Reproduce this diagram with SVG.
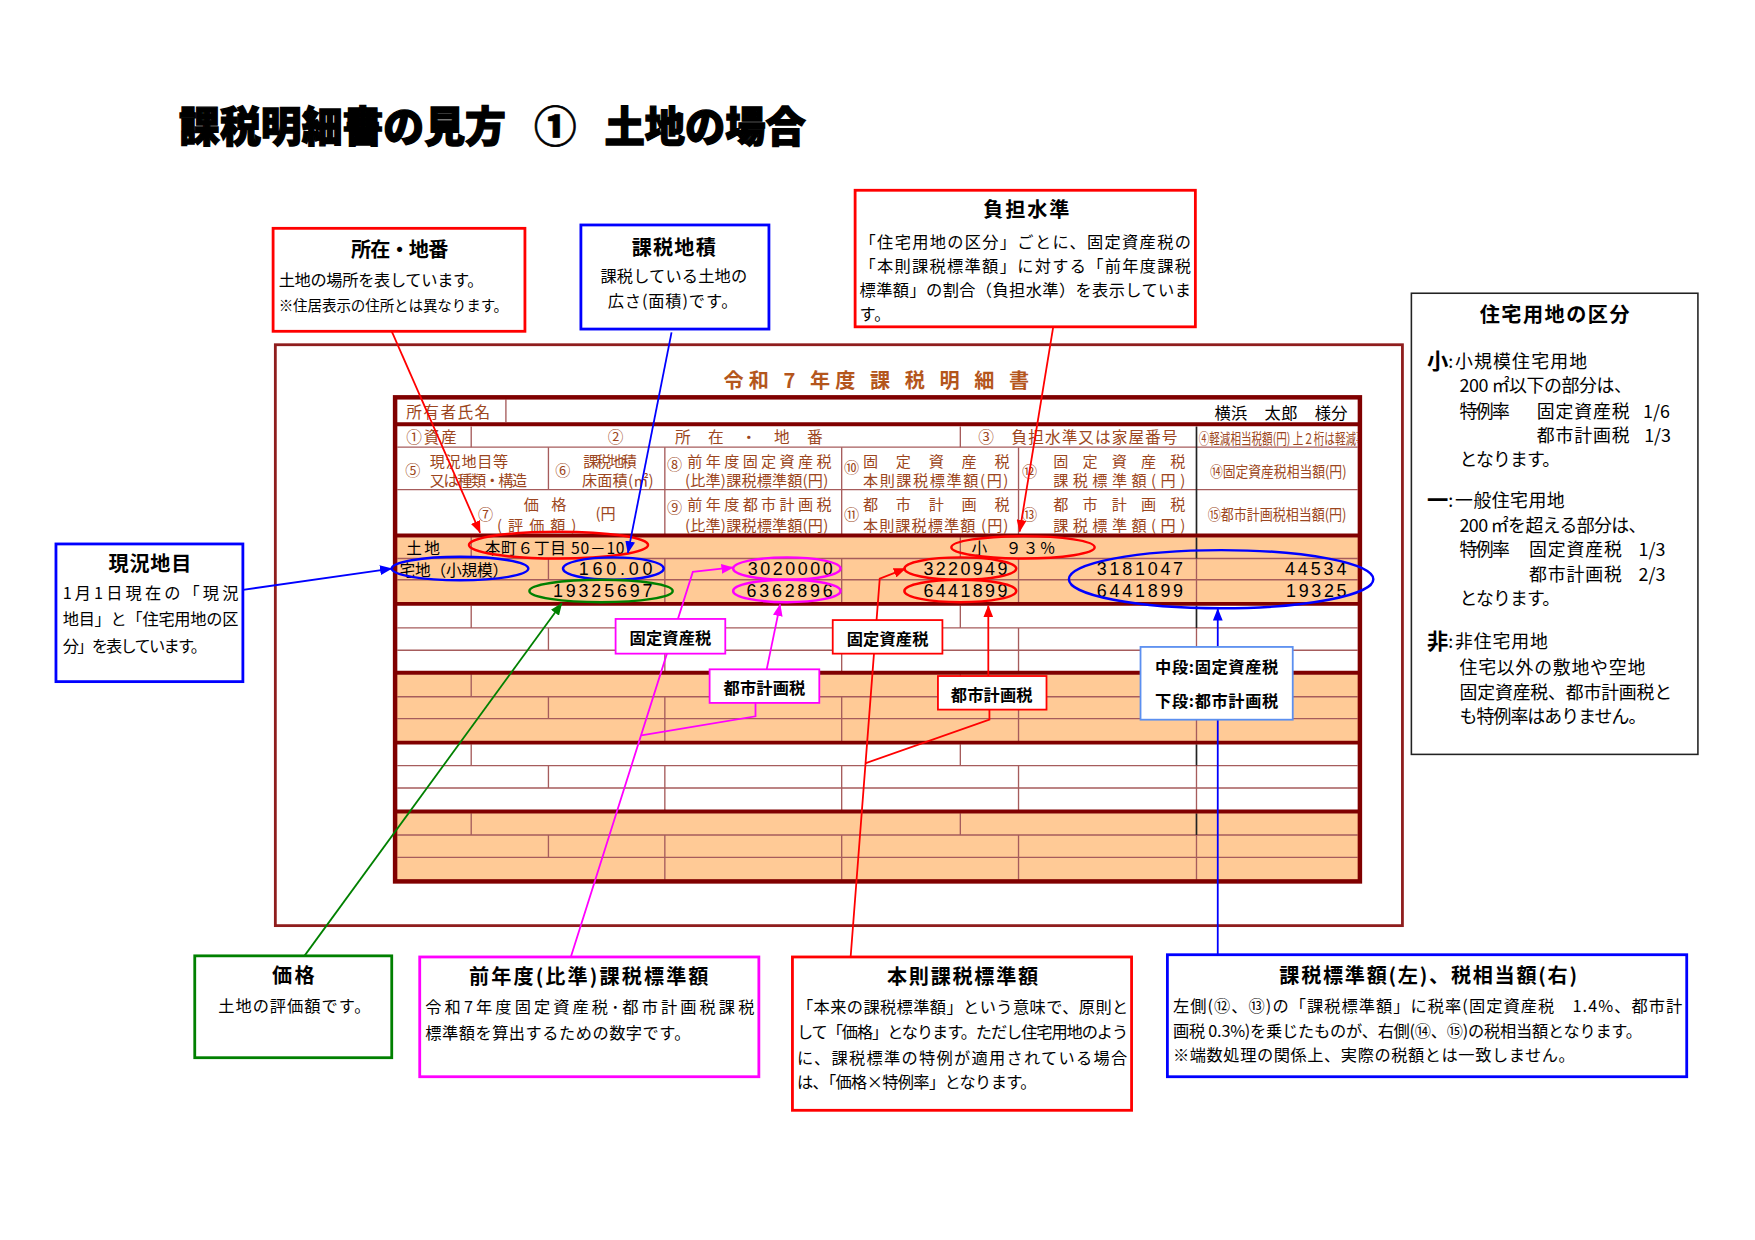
<svg xmlns="http://www.w3.org/2000/svg" width="1755" height="1240" viewBox="0 0 1755 1240">
<defs>
<style>
text{font-family:"Noto Sans CJK JP","Noto Sans CJK SC",sans-serif;dominant-baseline:central;fill:#000;}
.ttl{font-weight:bold;font-size:18px;text-anchor:middle;}
.bd{font-size:14.5px;}
.sm{font-size:13px;}
.hd{fill:#9c4620;font-size:13.5px;}
.hc{fill:#9c4620;font-size:14px;}
.dt{font-size:14px;}
.num{font-size:16px;font-family:"Liberation Sans","Noto Sans CJK JP",sans-serif;}
.lb{font-weight:bold;font-size:14.5px;text-anchor:middle;}
.kb{font-size:16px;}
.kbb{font-size:19px;font-weight:bold;}
.thick{stroke:#800000;stroke-width:3.5;fill:none;}
.thin{stroke:#a65c5c;stroke-width:1.2;fill:none;}
.blk{stroke:#222;stroke-width:1.5;fill:none;}
.or{fill:#ffca96;}
.cl{fill:none;stroke-width:1.6;}
.el{fill:none;stroke-width:2.2;}
.box{fill:#fff;stroke-width:2.5;}
.lbox{fill:#fff;stroke-width:1.6;}
.big{font-size:38px;font-weight:900;stroke:#000;stroke-width:1.2;}
</style>
<marker id="ar" viewBox="0 0 10 8" refX="9.5" refY="4" markerWidth="11" markerHeight="9" markerUnits="userSpaceOnUse" orient="auto"><path d="M0,0 L10,4 L0,8 z" fill="#f00"/></marker>
<marker id="ab" viewBox="0 0 10 8" refX="9.5" refY="4" markerWidth="11" markerHeight="9" markerUnits="userSpaceOnUse" orient="auto"><path d="M0,0 L10,4 L0,8 z" fill="#00f"/></marker>
<marker id="ag" viewBox="0 0 10 8" refX="9.5" refY="4" markerWidth="11" markerHeight="9" markerUnits="userSpaceOnUse" orient="auto"><path d="M0,0 L10,4 L0,8 z" fill="#008000"/></marker>
<marker id="am" viewBox="0 0 10 8" refX="9.5" refY="4" markerWidth="11" markerHeight="9" markerUnits="userSpaceOnUse" orient="auto"><path d="M0,0 L10,4 L0,8 z" fill="#f0f"/></marker>
<clipPath id="c4"><rect x="1070" y="381" width="143" height="18"/></clipPath>
</defs>
<rect x="0" y="0" width="1755" height="1240" fill="#fff"/>
<g id="page" transform="scale(1.11926)">

<g id="title">
<text class="big" x="160" y="110" textLength="292" lengthAdjust="spacingAndGlyphs">課税明細書の見方</text>
<text class="big" x="477" y="110" style="stroke-width:0.6">①</text>
<text class="big" x="540" y="110" textLength="180" lengthAdjust="spacingAndGlyphs">土地の場合</text>
</g>

<g id="frame">
<rect x="246" y="308" width="1007" height="519" fill="none" stroke="#8f1d1d" stroke-width="2.5"/>
<text x="783" y="339" font-size="18" font-weight="bold" style="fill:#b4561c" text-anchor="middle" textLength="273" xml:space="preserve">令和 7 年度 課 税 明 細 書</text>
</g>

<g id="table">
<rect class="or" x="353" y="480" width="862" height="58"/>
<rect class="or" x="353" y="602.5" width="862" height="59.5"/>
<rect class="or" x="353" y="726.5" width="862" height="60"/>
<path class="thin" d="M355,399.5H1213M355,437.5H1213M355,499H1213M355,518H1213M355,561H1213M355,581H1213M355,622.5H1213M355,642H1213M355,684H1213M355,704H1213M355,746H1213M355,766H1213"/>
<path class="thin" d="M452,357V377M421,381V399.5M858,381V399.5M490,399.5V437.5M594,399.5V477M752,399.5V477M910,399.5V477"/>
<path class="thin" d="M421,480V499M858,480V499M490,499V518M594,499V538M752,499V538M910,499V538M1069,499V538
M421,541V561M858,541V561M490,561V581M594,561V600M752,561V600M910,561V600M1069,561V600
M421,602.5V622.5M858,602.5V622.5M490,622.5V642M594,622.5V662M752,622.5V662M910,622.5V662M1069,622.5V662
M421,665V684M858,665V684M490,684V704M594,684V724M752,684V724M910,684V724M1069,684V724
M421,726.5V746M858,726.5V746M490,746V766M594,746V786M752,746V786M910,746V786M1069,746V786"/>
<path class="blk" d="M1069,381V477M1069,480V499M1069,541V561M1069,602.5V622.5M1069,665V684M1069,726.5V746"/>
<path class="thick" d="M353,379H1215M353,478.5H1215M353,539.5H1215M353,601H1215M353,663.5H1215M353,725H1215"/>
<rect x="353" y="355" width="862" height="432.5" fill="none" stroke="#800000" stroke-width="4"/>

<text class="hc" x="363" y="368" textLength="75" font-size="15">所有者氏名</text>
<text x="1085" y="368" font-size="14.5" textLength="119" xml:space="preserve">横浜　太郎　様分</text>
<text class="hc" x="363" y="390" textLength="45" font-size="15">①資産</text>
<text class="hc" x="543" y="390" font-size="15">②</text>
<text class="hc" x="603" y="390" textLength="132" font-size="15">所在・地番</text>
<text class="hc" x="874" y="390" textLength="178" font-size="15" xml:space="preserve">③　負担水準又は家屋番号</text>
<g clip-path="url(#c4)"><text class="hd" x="1071" y="390" font-size="10.5" textLength="150" lengthAdjust="spacingAndGlyphs">④軽減相当税額(円) 上２桁は軽減事</text></g>

<text class="hd" x="362" y="419" font-size="15">⑤</text>
<text class="hd" x="384" y="411" textLength="70">現況地目等</text>
<text class="hd" x="384" y="428" textLength="87">又は種類・構造</text>
<text class="hd" x="496" y="419" font-size="15">⑥</text>
<text class="hd" x="521" y="411" textLength="48" font-size="12">課税地積</text>
<text class="hd" x="520" y="428" textLength="64" font-size="12.5">床面積(㎡)</text>
<text class="hd" x="596" y="414" font-size="14">⑧</text>
<text class="hd" x="614" y="411" textLength="129">前年度固定資産税</text>
<text class="hd" x="612" y="428" textLength="128">(比準)課税標準額(円)</text>
<text class="hd" x="754" y="416" font-size="13">⑩</text>
<text class="hd" x="771" y="411" textLength="131">固定資産税</text>
<text class="hd" x="771" y="428" textLength="130">本則課税標準額(円)</text>
<text class="hd" x="913" y="420" font-size="13">⑫</text>
<text class="hd" x="941" y="411" textLength="118">固定資産税</text>
<text class="hd" x="941" y="428" textLength="118">課税標準額(円)</text>
<text class="hd" x="1081" y="420" textLength="122" font-size="12.5" lengthAdjust="spacingAndGlyphs">⑭固定資産税相当額(円)</text>

<text class="hd" x="468" y="449" textLength="38">価格</text>
<text class="hd" x="427" y="458" font-size="14">⑦</text>
<text class="hd" x="444" y="468" textLength="71">(評価額)</text>
<text class="hd" x="532" y="457" font-size="17">(円</text>
<text class="hd" x="596" y="452" font-size="14">⑨</text>
<text class="hd" x="614" y="449" textLength="129">前年度都市計画税</text>
<text class="hd" x="612" y="468" textLength="128">(比準)課税標準額(円)</text>
<text class="hd" x="754" y="458" font-size="13">⑪</text>
<text class="hd" x="771" y="449" textLength="131">都市計画税</text>
<text class="hd" x="771" y="468" textLength="130" xml:space="preserve">本則課税標準額 (円)</text>
<text class="hd" x="913" y="458" font-size="13">⑬</text>
<text class="hd" x="941" y="449" textLength="118">都市計画税</text>
<text class="hd" x="941" y="468" textLength="118">課税標準額(円)</text>
<text class="hd" x="1079" y="458" textLength="124" font-size="12.5" lengthAdjust="spacingAndGlyphs">⑮都市計画税相当額(円)</text>

<text class="dt" x="363" y="489" textLength="30">土地</text>
<text class="dt" x="433" y="489" textLength="125" xml:space="preserve">本町６丁目 50－10</text>
<text class="dt" x="868" y="489" textLength="75" xml:space="preserve">小　９３％</text>
<text class="dt" x="357" y="508.5" textLength="97">宅地（小規模）</text>
<text class="num" x="517" y="508.5" textLength="66">160.00</text>
<text class="num" x="668" y="508.5" textLength="76">3020000</text>
<text class="num" x="825" y="508.5" textLength="75">3220949</text>
<text class="num" x="980" y="508.5" textLength="77">3181047</text>
<text class="num" x="1148" y="508.5" textLength="55">44534</text>
<text class="num" x="494" y="528" textLength="89">19325697</text>
<text class="num" x="667" y="528" textLength="77">6362896</text>
<text class="num" x="825" y="528" textLength="75">6441899</text>
<text class="num" x="980" y="528" textLength="77">6441899</text>
<text class="num" x="1149" y="528" textLength="54">19325</text>
</g>

<g id="highlights">
<ellipse class="el" stroke="#f00" cx="499" cy="487" rx="80" ry="12"/>
<ellipse class="el" stroke="#00f" cx="411" cy="508" rx="61" ry="10.5"/>
<ellipse class="el" stroke="#00f" cx="548" cy="508" rx="45" ry="10"/>
<ellipse class="el" stroke="#008000" cx="537" cy="528" rx="64" ry="10"/>
<ellipse class="el" stroke="#f0f" cx="703" cy="508" rx="48" ry="10"/>
<ellipse class="el" stroke="#f0f" cx="703" cy="528" rx="48" ry="10"/>
<ellipse class="el" stroke="#f00" cx="914" cy="489" rx="64" ry="10"/>
<ellipse class="el" stroke="#f00" cx="858" cy="508" rx="50" ry="10"/>
<ellipse class="el" stroke="#f00" cx="858" cy="528" rx="50" ry="10"/>
<ellipse class="el" stroke="#00f" cx="1091" cy="517.5" rx="136" ry="26"/>
</g>

<g id="connectors">
<path class="cl" stroke="#f00" d="M350,296L429,476" marker-end="url(#ar)"/>
<path class="cl" stroke="#00f" d="M600,297L561,494" marker-end="url(#ab)"/>
<path class="cl" stroke="#f00" d="M941,292L911,475" marker-end="url(#ar)"/>
<path class="cl" stroke="#00f" d="M217,527L350,508" marker-end="url(#ab)"/>
<path class="cl" stroke="#008000" d="M272,854L502,539" marker-end="url(#ag)"/>
<path class="cl" stroke="#f0f" d="M510,855L619,511L655,507" marker-end="url(#am)"/>
<path class="cl" stroke="#f0f" d="M573,657L675,640L675,628"/>
<path class="cl" stroke="#f0f" d="M685,598L697,540" marker-end="url(#am)"/>
<path class="cl" stroke="#f00" d="M760,855L786,517L809,508" marker-end="url(#ar)"/>
<path class="cl" stroke="#f00" d="M773,682L884,643L884,634"/>
<path class="cl" stroke="#f00" d="M883,604L883,541" marker-end="url(#ar)"/>
<path class="cl" stroke="#00f" d="M1088,853L1088,544" marker-end="url(#ab)"/>
</g>

<g id="label-kotei-m"><rect class="lbox" stroke="#f0f" x="550" y="553" width="98" height="31"/><text class="lb" x="599" y="569" textLength="73">固定資産税</text></g>
<g id="label-toshi-m"><rect class="lbox" stroke="#f0f" x="634" y="598" width="98" height="30"/><text class="lb" x="683" y="614" textLength="73">都市計画税</text></g>
<g id="label-kotei-r"><rect class="lbox" stroke="#f00" x="744" y="554" width="98" height="30"/><text class="lb" x="793" y="570" textLength="73">固定資産税</text></g>
<g id="label-toshi-r"><rect class="lbox" stroke="#f00" x="838" y="604" width="97" height="30"/><text class="lb" x="886" y="620" textLength="73">都市計画税</text></g>
<g id="label-dan"><rect class="lbox" stroke="#5b8ff0" x="1019" y="578" width="136" height="65"/>
<text class="lb" x="1087" y="595" textLength="110">中段:固定資産税</text>
<text class="lb" x="1087" y="625" textLength="110">下段:都市計画税</text></g>

<g id="node-shozai">
<rect class="box" stroke="#f00" x="244" y="204" width="225" height="92"/>
<text class="ttl" x="357" y="222" textLength="87">所在・地番</text>
<text class="bd" x="249" y="249" textLength="183">土地の場所を表しています。</text>
<text class="sm" x="249" y="272" textLength="205">※住居表示の住所とは異なります。</text>
</g>

<g id="node-chiseki">
<rect class="box" stroke="#00f" x="519" y="201" width="168" height="93"/>
<text class="ttl" x="602" y="220" textLength="75">課税地積</text>
<text class="bd" x="602" y="246" text-anchor="middle" textLength="131">課税している土地の</text>
<text class="bd" x="601" y="268" text-anchor="middle" textLength="116">広さ(面積)です。</text>
</g>

<g id="node-futan">
<rect class="box" stroke="#f00" x="764" y="170" width="304" height="122"/>
<text class="ttl" x="917" y="186" textLength="77">負担水準</text>
<text class="bd" x="768" y="215" font-size="15.4" textLength="296">「住宅用地の区分」ごとに、固定資産税の</text>
<text class="bd" x="768" y="237" font-size="15.4" textLength="296">「本則課税標準額」に対する「前年度課税</text>
<text class="bd" x="768" y="258" font-size="15.4" textLength="296">標準額」の割合（負担水準）を表示していま</text>
<text class="bd" x="768" y="280" font-size="15.4">す。</text>
</g>

<g id="node-kubun">
<rect x="1261" y="262" width="256" height="412" fill="#fff" stroke="#222" stroke-width="1.4"/>
<text class="ttl" x="1389" y="280" font-size="19" textLength="134">住宅用地の区分</text>
<text class="kbb" x="1275" y="321">小</text>
<text class="kb" x="1294" y="322">:</text>
<text class="kb" x="1300" y="322" textLength="118">小規模住宅用地</text>
<text class="kb" x="1304" y="343" textLength="154" xml:space="preserve">200 ㎡以下の部分は、</text>
<text class="kb" x="1304" y="366" textLength="45">特例率</text>
<text class="kb" x="1373" y="366" textLength="83">固定資産税</text>
<text class="kb" x="1468" y="366" textLength="24">1/6</text>
<text class="kb" x="1373" y="388" textLength="83">都市計画税</text>
<text class="kb" x="1469" y="388" textLength="24">1/3</text>
<text class="kb" x="1304" y="409" textLength="90">となります。</text>
<text class="kbb" x="1275" y="445">一</text>
<text class="kb" x="1294" y="446">:</text>
<text class="kb" x="1300" y="446" textLength="98">一般住宅用地</text>
<text class="kb" x="1304" y="468" textLength="167" xml:space="preserve">200 ㎡を超える部分は、</text>
<text class="kb" x="1304" y="490" textLength="45">特例率</text>
<text class="kb" x="1366" y="490" textLength="83">固定資産税</text>
<text class="kb" x="1464" y="490" textLength="24">1/3</text>
<text class="kb" x="1366" y="512" textLength="83">都市計画税</text>
<text class="kb" x="1464" y="512" textLength="24">2/3</text>
<text class="kb" x="1304" y="533" textLength="90">となります。</text>
<text class="kbb" x="1275" y="571">非</text>
<text class="kb" x="1294" y="572">:</text>
<text class="kb" x="1300" y="572" textLength="83">非住宅用地</text>
<text class="kb" x="1304" y="595" textLength="166">住宅以外の敷地や空地</text>
<text class="kb" x="1304" y="617" textLength="190">固定資産税、都市計画税と</text>
<text class="kb" x="1304" y="639" textLength="167">も特例率はありません。</text>
</g>

<g id="node-genkyo">
<rect class="box" stroke="#00f" x="50" y="486" width="167" height="123"/>
<text class="ttl" x="134" y="503" textLength="74">現況地目</text>
<text class="bd" x="56" y="529" textLength="157">1月1日現在の「現況</text>
<text class="bd" x="56" y="552" textLength="157">地目」と「住宅用地の区</text>
<text class="bd" x="56" y="576" textLength="129">分」を表しています。</text>
</g>

<g id="node-kakaku">
<rect class="box" stroke="#008000" x="174" y="854" width="176" height="91"/>
<text class="ttl" x="262" y="871" textLength="38">価格</text>
<text class="bd" x="263" y="898" text-anchor="middle" textLength="136">土地の評価額です。</text>
</g>

<g id="node-zennendo">
<rect class="box" stroke="#f0f" x="375" y="855" width="303" height="107"/>
<text class="ttl" x="526" y="872" textLength="214">前年度(比準)課税標準額</text>
<text class="bd" x="380" y="899" textLength="294">令和7年度固定資産税･都市計画税課税</text>
<text class="bd" x="380" y="922" textLength="237">標準額を算出するための数字です。</text>
</g>

<g id="node-honsoku">
<rect class="box" stroke="#f00" x="708" y="855" width="303" height="137"/>
<text class="ttl" x="860" y="872" textLength="135">本則課税標準額</text>
<text class="bd" x="712" y="899" textLength="296">「本来の課税標準額」という意味で、原則と</text>
<text class="bd" x="712" y="921" textLength="296">して「価格」となります。ただし住宅用地のよう</text>
<text class="bd" x="712" y="944" textLength="295">に、課税標準の特例が適用されている場合</text>
<text class="bd" x="712" y="966" textLength="214">は、「価格×特例率」となります。</text>
</g>

<g id="node-kazei">
<rect class="box" stroke="#00f" x="1043" y="853" width="464" height="109"/>
<text class="ttl" x="1276" y="871" textLength="266">課税標準額(左)、税相当額(右)</text>
<text class="bd" x="1048" y="898" textLength="455">左側(⑫、⑬)の「課税標準額」に税率(固定資産税　1.4%、都市計</text>
<text class="bd" x="1048" y="920" textLength="419" xml:space="preserve">画税 0.3%)を乗じたものが、右側(⑭、⑮)の税相当額となります。</text>
<text class="bd" x="1048" y="942" textLength="359">※端数処理の関係上、実際の税額とは一致しません。</text>
</g>

</g>
</svg>
